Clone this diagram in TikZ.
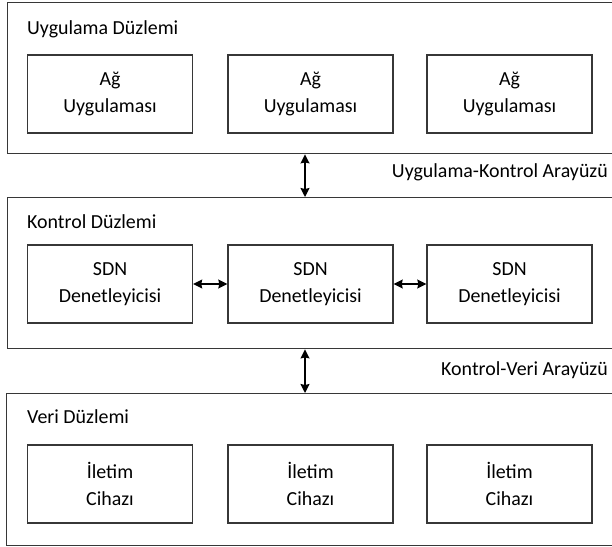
\documentclass[tikz,border=0pt]{standalone}
\usepackage{fontspec}
\setmainfont{Carlito}
\usetikzlibrary{arrows.meta}
\definecolor{edge}{RGB}{55,55,55}
\tikzset{
  plane/.style={draw=edge, line width=1.4bp, anchor=north west, minimum height=151bp, minimum width=700bp, inner sep=0pt},
  unitbox/.style={draw=edge, line width=1.4bp, minimum width=165bp, minimum height=78bp, align=center, font=\fontsize{20}{27}\selectfont, inner sep=0pt},
  title/.style={anchor=west, font=\fontsize{20}{23}\selectfont, inner sep=0pt},
  iface/.style={anchor=east, font=\fontsize{20}{23}\selectfont, inner sep=0pt},
  link/.style={draw=black, line width=1.3bp, {Stealth[length=9bp,width=9bp,inset=1bp]}-{Stealth[length=9bp,width=9bp,inset=1bp]}}
}
\begin{document}
\begin{tikzpicture}[x=1bp,y=-1bp]
\clip (0,0) rectangle (612,547);
\fill[white] (0,0) rectangle (612,547);
\node[plane] (app) at (7,2) {};
\node[plane] (ctl) at (7,197) {};
\node[plane, minimum height=152bp] (dat) at (6,393) {};
\node[title] (tapp) at (27,29) {Uygulama Düzlemi};
\node[title] (tctl) at (27,222) {Kontrol Düzlemi};
\node[title] (tdat) at (27,417) {Veri Düzlemi};
\node[unitbox] (a1) at (110,94) {Ağ\\Uygulaması};
\node[unitbox] (a2) at (310.5,94) {Ağ\\Uygulaması};
\node[unitbox] (a3) at (509.5,94) {Ağ\\Uygulaması};
\node[unitbox] (c1) at (110,284) {SDN\\Denetleyicisi};
\node[unitbox] (c2) at (310.5,284) {SDN\\Denetleyicisi};
\node[unitbox] (c3) at (509.5,284) {SDN\\Denetleyicisi};
\node[unitbox] (d1) at (110,484) {İletim\\Cihazı};
\node[unitbox] (d2) at (310.5,484) {İletim\\Cihazı};
\node[unitbox] (d3) at (509.5,484) {İletim\\Cihazı};
\coordinate (ax) at (305,0);
\draw[link] (app.south -| ax) -- (ctl.north -| ax);
\draw[link] (ctl.south -| ax) -- (dat.north -| ax);
\draw[link] (c1) -- (c2);
\draw[link] (c2) -- (c3);
\node[iface] (i1) at (608,172) {Uygulama-Kontrol Arayüzü};
\node[iface] (i2) at (608,370) {Kontrol-Veri Arayüzü};
\end{tikzpicture}
\end{document}
